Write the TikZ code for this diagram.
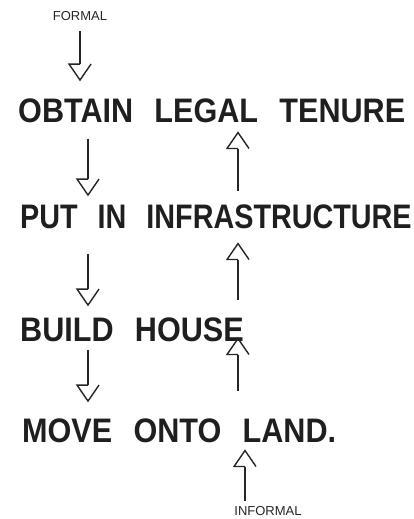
\documentclass[tikz,border=0pt]{standalone}
\usepackage{fontspec}
\setmainfont{Liberation Sans}
\newfontfamily\hand{Liberation Sans}[FakeStretch=0.9,WordSpace=2.5]
\usetikzlibrary{arrows.meta}

% open hand-drawn head: the shaft joins one barb only
\pgfdeclarearrow{
  name=Hand,
  parameters={\the\pgfarrowlength,\the\pgfarrowwidth},
  setup code={
    \pgfarrowssettipend{0pt}
    \pgfarrowssetbackend{-\pgfarrowlength}
    \pgfarrowssetlineend{-\pgfarrowlength}
    \pgfarrowssavethe\pgfarrowlength
    \pgfarrowssavethe\pgfarrowwidth
  },
  drawing code={
    \pgfpathmoveto{\pgfqpoint{-\pgfarrowlength}{0pt}}
    \pgfpathlineto{\pgfqpoint{-\pgfarrowlength}{.5\pgfarrowwidth}}
    \pgfpathlineto{\pgfqpoint{0pt}{0pt}}
    \pgfpathlineto{\pgfqpoint{-\pgfarrowlength}{-.5\pgfarrowwidth}}
    \pgfusepathqstroke
  },
  defaults={length=16pt,width=22pt}
}
\pgfdeclarearrow{
  name=HandSwap,
  parameters={\the\pgfarrowlength,\the\pgfarrowwidth},
  setup code={
    \pgfarrowssettipend{0pt}
    \pgfarrowssetbackend{-\pgfarrowlength}
    \pgfarrowssetlineend{-\pgfarrowlength}
    \pgfarrowssavethe\pgfarrowlength
    \pgfarrowssavethe\pgfarrowwidth
  },
  drawing code={
    \pgfpathmoveto{\pgfqpoint{-\pgfarrowlength}{0pt}}
    \pgfpathlineto{\pgfqpoint{-\pgfarrowlength}{-.5\pgfarrowwidth}}
    \pgfpathlineto{\pgfqpoint{0pt}{0pt}}
    \pgfpathlineto{\pgfqpoint{-\pgfarrowlength}{.5\pgfarrowwidth}}
    \pgfusepathqstroke
  },
  defaults={length=16pt,width=22pt}
}

\tikzset{
  stage/.style={anchor=base west, inner sep=0pt, text=black!88,
    font=\hand\fontsize{34}{34}\selectfont\bfseries},
  note/.style={inner sep=0pt, text=black!85, font=\fontsize{13}{13}\selectfont},
  flowdown/.style={line width=1.4pt, draw=black!85, -{HandSwap}},
  flowup/.style={line width=1.4pt, draw=black!85, -{Hand}}
}

\begin{document}
\begin{tikzpicture}[x=1pt,y=-1pt]
\useasboundingbox (0,0) rectangle (414,519);
% the four steps
\node[note] (formal) at (80,16) {FORMAL};
\node[stage] (obtain) at (18,122) {OBTAIN LEGAL TENURE};
\node[stage] (put) at (20,228) {\scalebox{0.94}[1]{PUT IN INFRASTRUCTURE}};
\node[stage] (build) at (20,341) {BUILD HOUSE};
\node[stage] (move) at (22,442) {MOVE ONTO LAND.};
\node[note] (informal) at (268,511) {INFORMAL};
% columns of the arrows
\coordinate (down) at (88,0);
\coordinate (up) at (238,0);
\coordinate (upinf) at (245,0);
% formal way, downwards
\draw[flowdown, shorten <=10pt, shorten >=18pt] (formal.south) -- (formal.south |- obtain.north);
\draw[flowdown, shorten <=16pt, shorten >=9pt] (obtain.south -| down) -- (put.north -| down);
\draw[flowdown, shorten <=25pt, shorten >=12pt] (put.south -| down) -- (build.north -| down);
\draw[flowdown, shorten <=8pt, shorten >=17pt] (build.south -| down) -- (move.north -| down);
% informal way, upwards
\draw[flowup, shorten <=5pt, shorten >=8pt] (informal.north -| upinf) -- (move.south -| upinf);
\draw[flowup, shorten <=27pt, shorten >=-3pt] (move.north -| up) -- (build.south -| up);
\draw[flowup, shorten <=17pt, shorten >=15pt] (build.north -| up) -- (put.south -| up);
\draw[flowup, shorten <=13pt, shorten >=10pt] (put.north -| up) -- (obtain.south -| up);
\end{tikzpicture}
\end{document}
